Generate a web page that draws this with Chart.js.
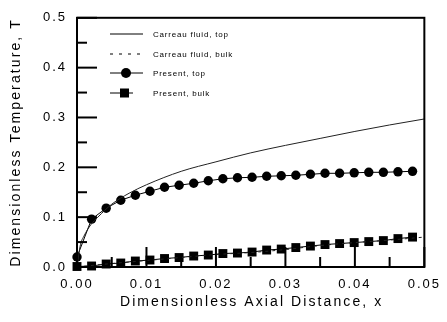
<!DOCTYPE html>
<html><head><meta charset="utf-8">
<script src="https://cdn.jsdelivr.net/npm/chart.js@4/dist/chart.umd.min.js"></script>
<style>html,body{margin:0;padding:0;background:#fff}#wrap{width:447px;height:322px}</style>
</head><body><div id="wrap"><canvas id="c" width="447" height="322"></canvas></div>
<script>
// ---- data ----
const xPresent = [0, 0.0021, 0.0042, 0.0063, 0.0084, 0.0105, 0.0126, 0.0147, 0.0168, 0.0189, 0.0210, 0.0231, 0.0252, 0.0273, 0.0294, 0.0315, 0.0336, 0.0357, 0.0378, 0.0399, 0.0420, 0.0441, 0.0462, 0.0483];
const presentTop = [0.020, 0.096, 0.118, 0.134, 0.144, 0.152, 0.160, 0.164, 0.168, 0.173, 0.177, 0.179, 0.180, 0.182, 0.183, 0.184, 0.186, 0.188, 0.188, 0.189, 0.190, 0.190, 0.191, 0.192];
const presentBulk = [0.001, 0.002, 0.006, 0.008, 0.012, 0.014, 0.017, 0.019, 0.022, 0.024, 0.027, 0.028, 0.030, 0.034, 0.036, 0.039, 0.042, 0.045, 0.047, 0.049, 0.051, 0.053, 0.057, 0.060];
const xCarreauTop = [0, 0.0005, 0.001, 0.002, 0.003, 0.005, 0.0075, 0.01, 0.015, 0.02, 0.025, 0.03, 0.035, 0.04, 0.045, 0.05];
const carreauTop = [0, 0.045, 0.062, 0.085, 0.100, 0.126, 0.148, 0.165, 0.192, 0.211, 0.229, 0.244, 0.258, 0.272, 0.285, 0.297];
const xCarreauBulk = [0, 0.005, 0.01, 0.015, 0.02, 0.025, 0.03, 0.035, 0.04, 0.045, 0.05];
const carreauBulk = [0, 0.007, 0.013, 0.019, 0.025, 0.029, 0.035, 0.043, 0.049, 0.054, 0.060];
const xTicks = [0, 0.01, 0.02, 0.03, 0.04, 0.05];
const yTicks = [0, 0.1, 0.2, 0.3, 0.4, 0.5];
const xTitle = 'Dimensionless Axial Distance, x';
const yTitle = 'Dimensionless Temperature, T';
const legendLabels = ['Carreau fluid, top', 'Carreau fluid, bulk', 'Present, top', 'Present, bulk'];

const pts = (xs, ys) => xs.map((x, i) => ({x: x, y: ys[i]}));
const FONT = '"Liberation Sans", Arial, sans-serif';

const deco = {
  id: 'deco',
  beforeDraw(chart) {
    chart.ctx.letterSpacing = '2px';
  },
  afterDraw(chart) {
    const ctx = chart.ctx, a = chart.chartArea;
    const xs = chart.scales.x, ys = chart.scales.y;
    ctx.save();
    ctx.strokeStyle = '#000';
    ctx.fillStyle = '#000';
    // frame
    ctx.lineWidth = 2;
    ctx.strokeRect(a.left, a.top, a.right - a.left, a.bottom - a.top);
    // inward ticks
    for (let i = 0; i <= 10; i++) {
      const v = i * 0.05;
      const p = ys.getPixelForValue(v);
      const len = (i % 2 === 0) ? 20 : 10;
      ctx.beginPath(); ctx.moveTo(a.left, p); ctx.lineTo(a.left + len, p); ctx.stroke();
    }
    for (let i = 0; i <= 10; i++) {
      const v = i * 0.005;
      const p = xs.getPixelForValue(v);
      const len = (i % 2 === 0) ? 20 : 10;
      ctx.beginPath(); ctx.moveTo(p, a.bottom); ctx.lineTo(p, a.bottom - len); ctx.stroke();
    }
    // axis titles
    ctx.letterSpacing = '2.1px';
    ctx.font = '14px ' + FONT;
    ctx.textAlign = 'center';
    ctx.textBaseline = 'middle';
    ctx.fillText(xTitle, (a.left + a.right) / 2 + 1, 302);
    ctx.save();
    ctx.translate(16, (a.top + a.bottom) / 2);
    ctx.rotate(-Math.PI / 2);
    ctx.fillText(yTitle, 0, 0);
    ctx.restore();
    // legend
    ctx.letterSpacing = '0.8px';
    ctx.font = '8px ' + FONT;
    ctx.textAlign = 'left';
    const rows = [34, 54, 73, 93];
    ctx.lineWidth = 1;
    ctx.beginPath(); ctx.moveTo(110, rows[0]); ctx.lineTo(143, rows[0]); ctx.stroke();
    ctx.setLineDash([3, 6]);
    ctx.beginPath(); ctx.moveTo(110, rows[1]); ctx.lineTo(143, rows[1]); ctx.stroke();
    ctx.setLineDash([]);
    ctx.beginPath(); ctx.moveTo(110, rows[2]); ctx.lineTo(143, rows[2]); ctx.stroke();
    ctx.beginPath(); ctx.arc(126, rows[2], 5, 0, Math.PI * 2); ctx.fill();
    ctx.beginPath(); ctx.moveTo(110, rows[3]); ctx.lineTo(133, rows[3]); ctx.stroke();
    ctx.fillRect(120, rows[3] - 4.5, 9, 9);
    for (let i = 0; i < 4; i++) ctx.fillText(legendLabels[i], 153, rows[i] + 0.5);
    ctx.restore();
  }
};

new Chart(document.getElementById('c'), {
  type: 'scatter',
  data: {
    datasets: [
      {label: legendLabels[0], data: pts(xCarreauTop, carreauTop), showLine: true, borderColor: '#222', borderWidth: 1, pointRadius: 0, cubicInterpolationMode: 'monotone', fill: false},
      {label: legendLabels[1], data: pts(xCarreauBulk, carreauBulk), showLine: true, borderColor: '#222', borderWidth: 1, borderDash: [3, 4], pointRadius: 0, cubicInterpolationMode: 'monotone', fill: false},
      {label: legendLabels[2], data: pts(xPresent, presentTop), showLine: true, borderColor: '#000', borderWidth: 1, pointStyle: 'circle', pointRadius: 4.7, pointBackgroundColor: '#000', pointBorderWidth: 0, fill: false},
      {label: legendLabels[3], data: pts(xPresent, presentBulk), showLine: true, borderColor: '#000', borderWidth: 1, pointStyle: 'rect', pointRadius: 6.3, pointBackgroundColor: '#000', pointBorderWidth: 0, fill: false}
    ]
  },
  options: {
    responsive: false,
    animation: false,
    clip: false,
    layout: {padding: {top: 14, right: 17, left: 0, bottom: 0}},
    plugins: {legend: {display: false}, tooltip: {enabled: false}},
    scales: {
      x: {
        type: 'linear', min: 0, max: 0.05,
        afterBuildTicks: s => { s.ticks = xTicks.map(v => ({value: v})); },
        afterFit: s => { s.height = 55; },
        grid: {display: false, drawTicks: false},
        border: {display: false},
        ticks: {padding: 10, color: '#000', font: {family: FONT, size: 13}, maxRotation: 0, callback: v => v.toFixed(2)}
      },
      y: {
        type: 'linear', min: 0, max: 0.5,
        afterBuildTicks: s => { s.ticks = yTicks.map(v => ({value: v})); },
        afterFit: s => { s.width = 77; },
        grid: {display: false, drawTicks: false},
        border: {display: false},
        ticks: {padding: 10, color: '#000', font: {family: FONT, size: 13}, callback: v => v.toFixed(1)}
      }
    }
  },
  plugins: [deco]
});
</script>
</body></html>
